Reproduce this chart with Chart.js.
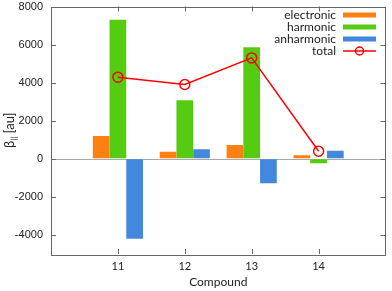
<!DOCTYPE html>
<html>
<head>
<meta charset="utf-8">
<script src="https://cdn.jsdelivr.net/npm/chart.js@4"></script>
<style>
  html, body { margin: 0; padding: 0; background: #fff; }
  #wrap { width: 392px; height: 291px; position: relative; }
</style>
</head>
<body>
<div id="wrap"><canvas id="chart"></canvas></div>
<script>
// padded categories so the axis runs from 10 to 15 like the original
const compounds = ["", "11", "12", "13", "14", ""];
const electronic = [null, 1200, 370, 730, 190, null];
const harmonic = [null, 7300, 3070, 5860, -230, null];
const anharmonic = [null, -4200, 500, -1290, 420, null];
const total = [null, 4290, 3900, 5300, 400, null];
const yTicks = [-4000, -2000, 0, 2000, 4000, 6000, 8000];

const colors = { electronic: "#ff8012", harmonic: "#55cc11", anharmonic: "#4488dd", total: "#ff0000" };
const frameColor = "#666";

const gnuplotLook = {
  id: "gnuplotLook",
  beforeDatasetsDraw(chart) {
    const { ctx, chartArea: a, scales: { y } } = chart;
    const y0 = y.getPixelForValue(0);
    ctx.save();
    ctx.strokeStyle = "#aaa";
    ctx.lineWidth = 1;
    ctx.beginPath();
    ctx.moveTo(a.left, Math.round(y0) + 0.5);
    ctx.lineTo(a.right, Math.round(y0) + 0.5);
    ctx.stroke();
    ctx.restore();
  },
  afterDraw(chart) {
    const { ctx, chartArea: a, scales: { x, y } } = chart;
    ctx.save();
    ctx.strokeStyle = frameColor;
    ctx.lineWidth = 1;
    ctx.strokeRect(Math.round(a.left) + 0.5, Math.round(a.top) + 0.5, Math.round(a.right - a.left) - 1, Math.round(a.bottom - a.top));
    ctx.beginPath();
    yTicks.forEach((v) => {
      const py = Math.round(y.getPixelForValue(v)) + 0.5;
      ctx.moveTo(a.left, py); ctx.lineTo(a.left + 5, py);
      ctx.moveTo(a.right, py); ctx.lineTo(a.right - 5, py);
    });
    compounds.forEach((c, i) => {
      if (!c) return;
      const px = Math.round(x.getPixelForValue(i)) + 0.5;
      ctx.moveTo(px, a.bottom); ctx.lineTo(px, a.bottom - 5);
      ctx.moveTo(px, a.top); ctx.lineTo(px, a.top + 5);
    });
    ctx.stroke();

    // legend, text right-aligned before the sample
    const rows = [
      { label: "electronic", color: colors.electronic, kind: "bar" },
      { label: "harmonic", color: colors.harmonic, kind: "bar" },
      { label: "anharmonic", color: colors.anharmonic, kind: "bar" },
      { label: "total", color: colors.total, kind: "line" },
    ];
    ctx.font = "12px Lato";
    ctx.textAlign = "right";
    ctx.textBaseline = "middle";
    rows.forEach((r, i) => {
      const ry = 15 + i * 12;
      ctx.fillStyle = "#222";
      ctx.fillText(r.label, 336, ry);
      if (r.kind === "bar") {
        ctx.fillStyle = r.color;
        ctx.fillRect(343, ry - 2.5, 33, 5);
      } else {
        ctx.strokeStyle = r.color;
        ctx.lineWidth = 1.5;
        ctx.beginPath();
        ctx.moveTo(343, ry); ctx.lineTo(376, ry);
        ctx.stroke();
        ctx.beginPath();
        ctx.arc(359.5, ry, 4, 0, Math.PI * 2);
        ctx.stroke();
      }
    });

    // y axis title with subscript
    ctx.translate(10, (a.top + a.bottom) / 2);
    ctx.rotate(-Math.PI / 2);
    ctx.fillStyle = "#222";
    ctx.textAlign = "left";
    ctx.textBaseline = "middle";
    const main = "β";
    const sub = "||";
    const rest = " [au]";
    ctx.font = "13px Lato";
    const wMain = ctx.measureText(main).width;
    const wRest = ctx.measureText(rest).width;
    ctx.font = "8px Lato";
    const wSub = ctx.measureText(sub).width;
    let sx = -(wMain + wSub + wRest) / 2;
    ctx.font = "13px Lato";
    ctx.fillText(main, sx, 0);
    sx += wMain;
    ctx.font = "8px Lato";
    ctx.fillText(sub, sx, 4);
    sx += wSub;
    ctx.font = "13px Lato";
    ctx.fillText(rest, sx, 0);
    ctx.restore();
  },
};

const barDefaults = { barPercentage: 1, categoryPercentage: 0.75, borderWidth: 0, order: 2 };

new Chart(document.getElementById("chart"), {
  data: {
    labels: compounds,
    datasets: [
      { type: "bar", label: "electronic", data: electronic, backgroundColor: colors.electronic, ...barDefaults },
      { type: "bar", label: "harmonic", data: harmonic, backgroundColor: colors.harmonic, ...barDefaults },
      { type: "bar", label: "anharmonic", data: anharmonic, backgroundColor: colors.anharmonic, ...barDefaults },
      {
        type: "line", label: "total", data: total, borderColor: colors.total, borderWidth: 1.5,
        pointRadius: 5, pointBorderWidth: 1.5, pointBackgroundColor: "rgba(0,0,0,0)", pointBorderColor: colors.total,
        tension: 0, spanGaps: false, order: 1,
      },
    ],
  },
  options: {
    responsive: true,
    maintainAspectRatio: false,
    animation: false,
    events: [],
    layout: { padding: { top: 5, right: 2, left: 0, bottom: 0 } },
    plugins: { legend: { display: false }, tooltip: { enabled: false } },
    scales: {
      x: {
        type: "category",
        offset: false,
        grid: { display: false, drawTicks: false },
        border: { display: false },
        ticks: { color: "#222", font: { family: "Lato", size: 11 }, padding: 6, autoSkip: false, maxRotation: 0 },
        title: { display: true, text: "Compound", color: "#222", font: { family: "Lato", size: 12 }, padding: { top: 0, bottom: 2 } },
        afterFit: (s) => { s.height = 37; },
      },
      y: {
        min: -5000,
        max: 8000,
        afterBuildTicks: (s) => { s.ticks = yTicks.map((v) => ({ value: v })); },
        grid: { display: true, drawOnChartArea: false, drawTicks: true, tickLength: 8, color: "rgba(0,0,0,0)" },
        border: { display: false },
        ticks: { color: "#222", font: { family: "Liberation Sans", size: 11, lineHeight: 0.2 }, padding: 0, callback: (v) => String(v) },
        afterFit: (s) => { s.width = 51; },
      },
    },
  },
  plugins: [gnuplotLook],
});
</script>
</body>
</html>
